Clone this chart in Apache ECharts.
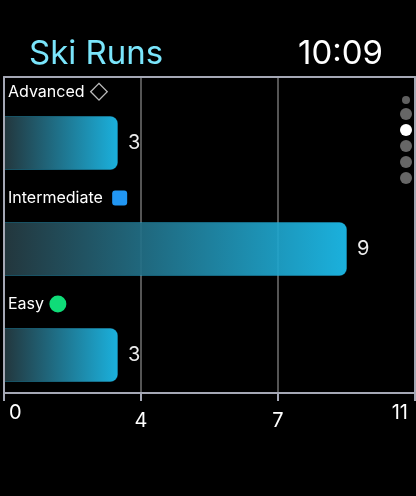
<!DOCTYPE html>
<html><head><meta charset="utf-8">
<style>html,body{margin:0;padding:0;background:#000}#c{width:416px;height:496px}</style>
<script src="https://cdn.jsdelivr.net/npm/echarts@6/dist/echarts.min.js"></script>
</head><body><div id="c"></div>
<script>
const categories = ['Advanced', 'Intermediate', 'Easy'];
const shownValues = [3, 9, 3];
const barValues = [3.05, 9.18, 3.05];
const tickLabels = ['0', '4', '7', '11'];
const titleText = 'Ski Runs';
const clockText = '10:09';
const FONT = 'Inter, Roboto, sans-serif';
const frame = '#a5a8b5';

const chart = echarts.init(document.getElementById('c'), null, {renderer: 'canvas'});
function pageDot(y, r, color) {
  return {type: 'circle', shape: {cx: 406, cy: y, r: r}, style: {fill: color}, silent: true};
}
chart.setOption({
  backgroundColor: '#000',
  animation: false,
  title: [
    {text: titleText, left: 24, top: 33, textStyle: {color: '#7ae5fb', fontFamily: FONT, fontSize: 33, fontWeight: 400}},
    {text: clockText, right: 28, top: 33, textStyle: {color: '#fff', fontFamily: FONT, fontSize: 33, fontWeight: 400}}
  ],
  grid: {left: 4, right: 1, top: 77, bottom: 101},
  xAxis: [{
    type: 'value', min: 0, max: 11, interval: 11 / 3, position: 'bottom', offset: -2,
    axisLine: {show: true, onZero: false, lineStyle: {color: frame, width: 2}},
    axisTick: {show: false},
    splitLine: {show: true, lineStyle: {color: '#555', width: 2}},
    axisLabel: {
      show: true, margin: 10, alignMinLabel: 'left', alignMaxLabel: 'right',
      formatter: (v, i) => (i === 0 ? '{lo|' : i === 3 ? '{hi|' : '{mid|') + tickLabels[i] + '}',
      rich: {
        lo: {color: '#fff', fontFamily: FONT, fontSize: 20, padding: [0, 0, 16, 5]},
        hi: {color: '#fff', fontFamily: FONT, fontSize: 20, padding: [0, 7, 16, 0]},
        mid: {color: '#fff', fontFamily: FONT, fontSize: 20, padding: [8, 0, 0, 0]}
      }
    }
  }, {
    type: 'value', min: 0, max: 11, position: 'top',
    axisLine: {show: true, onZero: false, lineStyle: {color: frame, width: 2}},
    axisTick: {show: false}, axisLabel: {show: false}, splitLine: {show: false}
  }],
  yAxis: [{
    type: 'category', data: categories, inverse: true, position: 'left', z: 6,
    axisLine: {show: true, onZero: false, lineStyle: {color: frame, width: 2}},
    axisTick: {show: false}, axisLabel: {show: false}, splitLine: {show: false}
  }, {
    type: 'category', data: categories, inverse: true, position: 'right',
    axisLine: {show: true, onZero: false, lineStyle: {color: frame, width: 2}},
    axisTick: {show: false}, axisLabel: {show: false}, splitLine: {show: false}
  }],
  series: [{
    name: 'Heading', type: 'bar', barWidth: 26, barGap: '0%',
    data: barValues, itemStyle: {color: 'transparent'}, silent: true, z: 3,
    label: {
      show: true, position: 'insideLeft', distance: 4, offset: [0, -11],
      formatter: p => {
        const marks = ['{g|}{d|◇}', '{g|}{g|}{g|}{s|}', '{g|}{c|}'];
        return '{t|' + categories[p.dataIndex] + '} ' + marks[p.dataIndex];
      },
      rich: {
        t: {color: '#fff', fontFamily: FONT, fontSize: 16},
        g: {width: 2, height: 2},
        d: {color: '#bbb', fontFamily: 'DejaVu Sans', fontSize: 24},
        s: {backgroundColor: '#2196f3', width: 15, height: 15, borderRadius: 3},
        c: {backgroundColor: '#0fdc78', width: 17, height: 17, borderRadius: 9}
      }
    }
  }, {
    name: 'Runs', type: 'bar', barWidth: 54, data: barValues, z: 2,
    itemStyle: {
      opacity: 0.92,
      borderRadius: [0, 7, 7, 0],
      borderColor: 'rgba(40,190,235,0.35)',
      borderWidth: 1,
      color: {type: 'linear', x: 0, y: 0, x2: 1, y2: 0, colorStops: [
        {offset: 0, color: '#263b42'}, {offset: 1, color: '#1dc0f0'}
      ]}
    },
    label: {
      show: true, position: 'right', distance: 10, color: '#fff', fontFamily: FONT, fontSize: 20,
      formatter: p => String(shownValues[p.dataIndex])
    }
  }]
});
const dots = [
  pageDot(100, 4, '#5f5f5f'), pageDot(114, 6, '#666'), pageDot(130, 6, '#fff'),
  pageDot(146, 6, '#666'), pageDot(162, 6, '#666'), pageDot(178, 6, '#666')
];
const ticks = tickLabels.map((_, i) => {
  const x = chart.convertToPixel({xAxisIndex: 0}, i * 11 / 3);
  return {type: 'line', shape: {x1: x, y1: 393, x2: x, y2: 401}, style: {stroke: frame, lineWidth: 2}, silent: true};
});
chart.setOption({graphic: dots.concat(ticks)});
</script></body></html>
